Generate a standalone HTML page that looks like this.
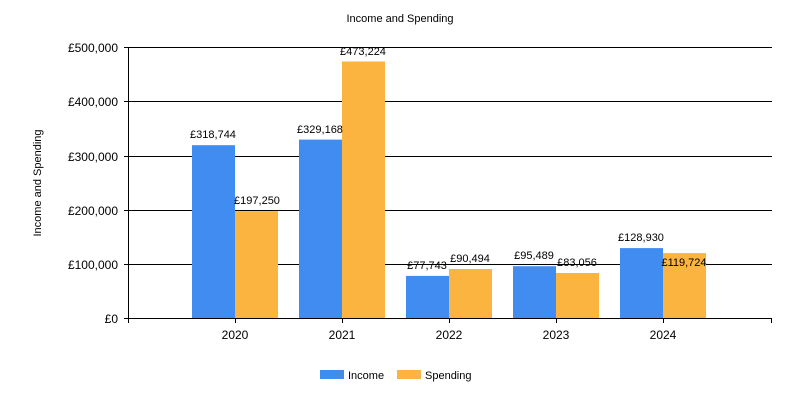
<!DOCTYPE html>
<html><head><meta charset="utf-8"><style>
body{margin:0;background:#fff}
svg{display:block;font-family:"Liberation Sans",sans-serif}
</style></head><body>
<svg width="800" height="400" xmlns="http://www.w3.org/2000/svg">
<text x="400" y="22" font-size="11" text-anchor="middle">Income and Spending</text>
<text transform="translate(41,183) rotate(-90)" font-size="11" text-anchor="middle">Income and Spending</text>
<g stroke="#000" stroke-width="1">
<line x1="124" y1="47.5" x2="772" y2="47.5"/>
<line x1="124" y1="101.5" x2="772" y2="101.5"/>
<line x1="124" y1="156.5" x2="772" y2="156.5"/>
<line x1="124" y1="210.5" x2="772" y2="210.5"/>
<line x1="124" y1="264.5" x2="772" y2="264.5"/>
</g>
<g font-size="12" text-anchor="end">
<text x="118" y="52">£500,000</text>
<text x="118" y="106">£400,000</text>
<text x="118" y="161">£300,000</text>
<text x="118" y="215">£200,000</text>
<text x="118" y="269">£100,000</text>
<text x="118" y="323">£0</text>
</g>
<g>
<rect x="192" y="145.2" width="43" height="172.8" fill="#418CF0"/>
<rect x="235" y="211.1" width="43" height="106.9" fill="#FCB441"/>
<rect x="299" y="139.6" width="43" height="178.4" fill="#418CF0"/>
<rect x="342" y="61.5" width="43" height="256.5" fill="#FCB441"/>
<rect x="406" y="275.9" width="43" height="42.1" fill="#418CF0"/>
<rect x="449" y="269" width="43" height="49" fill="#FCB441"/>
<rect x="513" y="266.2" width="43" height="51.8" fill="#418CF0"/>
<rect x="556" y="273" width="43" height="45" fill="#FCB441"/>
<rect x="620" y="248.1" width="43" height="69.9" fill="#418CF0"/>
<rect x="663" y="253.1" width="43" height="64.9" fill="#FCB441"/>
</g>
<g stroke="#000" stroke-width="1">
<line x1="128.5" y1="47" x2="128.5" y2="323"/>
<line x1="124" y1="318.5" x2="772" y2="318.5"/>
<line x1="771.5" y1="318" x2="771.5" y2="323"/>
<line x1="235.5" y1="318" x2="235.5" y2="323"/>
<line x1="342.5" y1="318" x2="342.5" y2="323"/>
<line x1="449.5" y1="318" x2="449.5" y2="323"/>
<line x1="556.5" y1="318" x2="556.5" y2="323"/>
<line x1="663.5" y1="318" x2="663.5" y2="323"/>
</g>
<g font-size="12" text-anchor="middle">
<text x="235" y="339">2020</text>
<text x="342" y="339">2021</text>
<text x="449" y="339">2022</text>
<text x="556" y="339">2023</text>
<text x="663" y="339">2024</text>
</g>
<g font-size="11" text-anchor="middle">
<text x="213" y="138">£318,744</text>
<text x="257" y="204">£197,250</text>
<text x="320" y="133">£329,168</text>
<text x="363" y="55">£473,224</text>
<text x="427" y="269">£77,743</text>
<text x="470" y="262">£90,494</text>
<text x="534" y="259">£95,489</text>
<text x="577" y="266">£83,056</text>
<text x="641" y="241">£128,930</text>
<text x="684" y="266">£119,724</text>
</g>
<rect x="320" y="370" width="24" height="9" fill="#418CF0"/>
<text x="348" y="379" font-size="11">Income</text>
<rect x="397" y="370" width="24" height="9" fill="#FCB441"/>
<text x="425" y="379" font-size="11">Spending</text>
</svg>
</body></html>
